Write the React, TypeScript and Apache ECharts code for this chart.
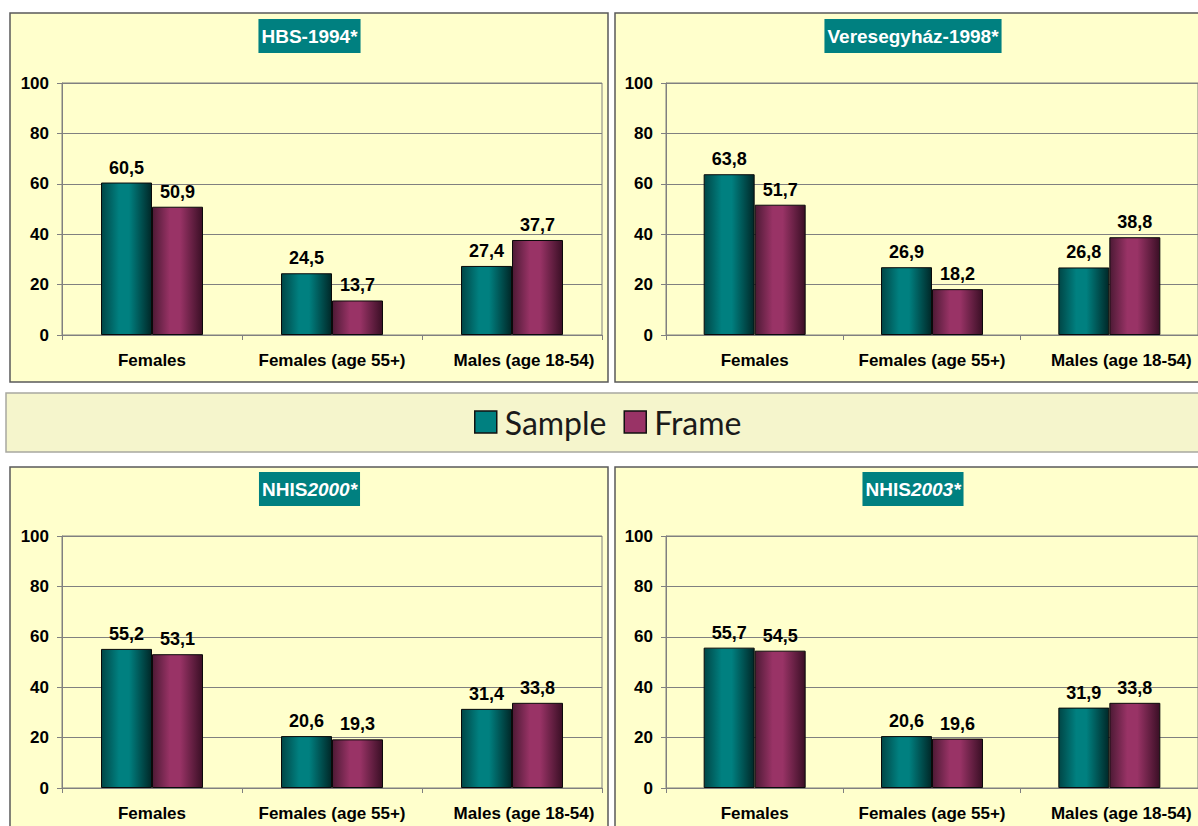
import React, { useEffect, useRef } from "react";
import * as echarts from "echarts";

const categories = ["Females", "Females (age 55+)", "Males (age 18-54)"];
const yTicks = { min: 0, max: 100, interval: 20 };

const hbsSample = [60.5, 24.5, 27.4];
const hbsFrame = [50.9, 13.7, 37.7];
const veresSample = [63.8, 26.9, 26.8];
const veresFrame = [51.7, 18.2, 38.8];
const nhis2000Sample = [55.2, 20.6, 31.4];
const nhis2000Frame = [53.1, 19.3, 33.8];
const nhis2003Sample = [55.7, 20.6, 31.9];
const nhis2003Frame = [54.5, 19.6, 33.8];

const panelTitles = [
  { text: "{n|HBS-1994*}" },
  { text: "{n|Veresegyház-1998*}" },
  { text: "{n|NHIS}{i|2000*}" },
  { text: "{n|NHIS}{i|2003*}" },
];
const legendNames = ["Sample", "Frame"];

const panelData = [
  [hbsSample, hbsFrame],
  [veresSample, veresFrame],
  [nhis2000Sample, nhis2000Frame],
  [nhis2003Sample, nhis2003Frame],
];

const FONT = 'Arial, "Liberation Sans", sans-serif';
const AXIS_GRAY = "#808080";

export default function App() {
  const ref = useRef<HTMLDivElement>(null);

  useEffect(() => {
    if (!ref.current) return;
    const chart = echarts.init(ref.current, undefined, { renderer: "svg" });

    const panels = [
      { px: 10, py: 13, gl: 62, gt: 83, cx: 309.5, ty: 36 },
      { px: 615, py: 13, gl: 666, gt: 83, cx: 913, ty: 36 },
      { px: 10, py: 467, gl: 62, gt: 536, cx: 309.5, ty: 489 },
      { px: 615, py: 467, gl: 666, gt: 536, cx: 913, ty: 489 },
    ];

    const tealGrad = new echarts.graphic.LinearGradient(0, 0, 1, 0, [
      { offset: 0, color: "#004646" },
      { offset: 0.35, color: "#008080" },
      { offset: 0.55, color: "#008080" },
      { offset: 1, color: "#002828" },
    ]);
    const maroonGrad = new echarts.graphic.LinearGradient(0, 0, 1, 0, [
      { offset: 0, color: "#4d1a35" },
      { offset: 0.35, color: "#993366" },
      { offset: 0.55, color: "#993366" },
      { offset: 1, color: "#3a0f25" },
    ]);

    const grids = panels.map((p) => ({
      left: p.gl,
      top: p.gt,
      width: 540,
      height: 252,
      show: true,
      borderColor: AXIS_GRAY,
      borderWidth: 1,
      backgroundColor: "transparent",
    }));

    const catLabelStyle = {
      fontSize: 17,
      fontWeight: "bold",
      fontFamily: FONT,
      color: "#000",
    };

    const xAxes = panels.map((_, i) => ({
      type: "category",
      gridIndex: i,
      data: categories,
      axisLine: { show: true, lineStyle: { color: AXIS_GRAY, width: 1 } },
      axisTick: { show: true, length: 5, lineStyle: { color: AXIS_GRAY } },
      axisLabel: {
        interval: 0,
        hideOverlap: false,
        ...catLabelStyle,
        margin: 17,
        formatter: (v: string, idx: number) =>
          idx === categories.length - 1 ? `{r|${v}}` : `{c|${v}}`,
        rich: {
          c: { ...catLabelStyle },
          r: { ...catLabelStyle, padding: [0, 0, 0, 24] },
        },
      },
    }));

    const yAxes = panels.map((_, i) => ({
      type: "value",
      gridIndex: i,
      min: yTicks.min,
      max: yTicks.max,
      interval: yTicks.interval,
      axisLine: { show: true, lineStyle: { color: AXIS_GRAY, width: 1 } },
      axisTick: { show: true, length: 5, lineStyle: { color: AXIS_GRAY } },
      splitLine: { show: true, lineStyle: { color: AXIS_GRAY, width: 1 } },
      axisLabel: {
        fontSize: 17,
        fontWeight: "bold",
        fontFamily: FONT,
        color: "#000",
        margin: 13,
      },
    }));

    const labelCfg = {
      show: true,
      position: "top",
      distance: 6,
      fontSize: 18,
      fontWeight: "bold",
      fontFamily: FONT,
      color: "#000",
      formatter: (p: any) => String(p.value).replace(".", ","),
    };

    const series: any[] = [];
    panelData.forEach(([s, f], i) => {
      series.push({
        type: "bar",
        name: legendNames[0],
        xAxisIndex: i,
        yAxisIndex: i,
        data: s,
        barWidth: 51,
        barGap: "0%",
        itemStyle: { color: tealGrad, borderColor: "#0a0a0a", borderWidth: 1 },
        label: labelCfg,
      });
      series.push({
        type: "bar",
        name: legendNames[1],
        xAxisIndex: i,
        yAxisIndex: i,
        data: f,
        barWidth: 51,
        barGap: "0%",
        itemStyle: { color: maroonGrad, borderColor: "#0a0a0a", borderWidth: 1 },
        label: labelCfg,
      });
    });

    const graphics: any[] = [];
    panels.forEach((p) => {
      graphics.push({
        type: "rect",
        z: -10,
        silent: true,
        shape: { x: p.px, y: p.py, width: 598, height: 369 },
        style: { fill: "#ffffcc", stroke: "#5a5a5a", lineWidth: 1.5 },
      });
    });
    // legend band
    graphics.push({
      type: "rect",
      z: -10,
      silent: true,
      shape: { x: 6, y: 393, width: 1200, height: 59 },
      style: { fill: "#f5f5cc", stroke: "#a8a8a0", lineWidth: 1.5 },
    });
    panels.forEach((p, i) => {
      graphics.push({
        type: "text",
        z: 10,
        silent: true,
        x: p.cx,
        y: p.ty,
        style: {
          text: panelTitles[i].text,
          align: "center",
          verticalAlign: "middle",
          backgroundColor: "#008080",
          padding: [7, 3, 7, 3],
          rich: {
            n: {
              fontFamily: FONT,
              fontSize: 19,
              fontWeight: "bold",
              fill: "#ffffff",
              color: "#ffffff",
              lineHeight: 20,
            },
            i: {
              fontFamily: FONT,
              fontSize: 19,
              fontWeight: "bold",
              fontStyle: "italic",
              fill: "#ffffff",
              color: "#ffffff",
              lineHeight: 20,
            },
          },
        },
      });
    });

    chart.setOption({
      animation: false,
      backgroundColor: "#ffffff",
      grid: grids,
      xAxis: xAxes,
      yAxis: yAxes,
      series,
      legend: {
        left: 474,
        top: 406,
        padding: 0,
        itemWidth: 22,
        itemHeight: 22,
        itemGap: 17,
        selectedMode: false,
        icon: "rect",
        textStyle: {
          fontFamily: "Lato, sans-serif",
          fontSize: 32,
          color: "#1a1a1a",
          padding: [0, 0, 0, 3],
        },
        data: [
          {
            name: legendNames[0],
            itemStyle: { color: "#008080", borderColor: "#111", borderWidth: 1.5 },
          },
          {
            name: legendNames[1],
            itemStyle: { color: "#993366", borderColor: "#111", borderWidth: 1.5 },
          },
        ],
      },
      graphic: graphics,
    });

    return () => {
      chart.dispose();
    };
  }, []);

  return (
    <div
      ref={ref}
      style={{ position: "absolute", left: 0, top: 0, width: 1198, height: 826 }}
    />
  );
}
